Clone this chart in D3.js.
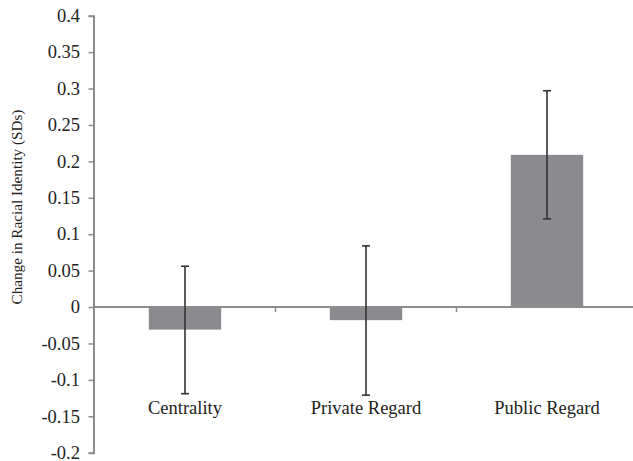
<!DOCTYPE html>
<html>
<head>
<meta charset="utf-8">
<script src="https://cdn.jsdelivr.net/npm/d3@7"></script>
<style>
  html, body { margin: 0; padding: 0; background: #fff; }
  svg { display: block; }
  svg text { font-family: "Liberation Serif", "Times New Roman", serif; }
</style>
</head>
<body>
<svg id="chart" width="633" height="461"></svg>
<script>
// Change in racial identity by dimension, with error bar limits
const categories = ["Centrality", "Private Regard", "Public Regard"];
const values = [-0.031, -0.018, 0.209];
const errorUpper = [0.056, 0.084, 0.297];
const errorLower = [-0.119, -0.121, 0.121];
const yTicks = [0.4, 0.35, 0.3, 0.25, 0.2, 0.15, 0.1, 0.05, 0, -0.05, -0.1, -0.15, -0.2];
const yTitle = "Change in Racial Identity (SDs)";

const svg = d3.select("#chart");
const axisColor = "#8c8c8c";
const barColor = "#8b8b8f";
const errColor = "#333";
const textColor = "#222";

const y = d3.scaleLinear().domain([-0.2, 0.4]).range([452.7, 15.7]);
const x = d3.scaleBand().domain(categories).range([94.5, 637.5])
  .paddingInner(0.6).paddingOuter(0.3);

// Bars
svg.append("g").selectAll("rect")
  .data(categories)
  .join("rect")
  .attr("x", d => x(d))
  .attr("width", x.bandwidth())
  .attr("y", (d, i) => y(Math.max(0, values[i])))
  .attr("height", (d, i) => Math.abs(y(values[i]) - y(0)))
  .attr("fill", barColor);

// Y axis line and tick marks (labels drawn separately below)
const yAxis = d3.axisLeft(y)
  .tickValues(yTicks)
  .tickFormat("")
  .tickSize(5);
const gy = svg.append("g").attr("transform", "translate(93.5,0)").call(yAxis);
gy.select(".domain").attr("stroke", axisColor).attr("stroke-width", 2);
gy.selectAll(".tick line").attr("stroke", axisColor).attr("stroke-width", 1.5);

// Y tick labels
svg.append("g").selectAll("text")
  .data(yTicks)
  .join("text")
  .attr("x", 80)
  .attr("y", d => y(d))
  .attr("dy", "0.34em")
  .attr("text-anchor", "end")
  .attr("fill", textColor)
  .style("font-size", "18.5px")
  .text(d => d === 0 ? "0" : String(d));

// Zero baseline with category separator ticks
const zeroY = y(0);
svg.append("line")
  .attr("x1", 93.5).attr("x2", 633)
  .attr("y1", zeroY).attr("y2", zeroY)
  .attr("stroke", axisColor).attr("stroke-width", 2);
const separators = categories.slice(1).map(c => x(c) - x.step() * x.paddingInner() / 2);
svg.append("g").selectAll("line")
  .data(separators)
  .join("line")
  .attr("x1", d => d).attr("x2", d => d)
  .attr("y1", zeroY).attr("y2", zeroY + 5)
  .attr("stroke", axisColor).attr("stroke-width", 1.5);

// Error bars
const eb = svg.append("g").attr("stroke", errColor).attr("stroke-width", 1.6);
categories.forEach((c, i) => {
  const cx = x(c) + x.bandwidth() / 2;
  eb.append("line").attr("x1", cx).attr("x2", cx)
    .attr("y1", y(errorUpper[i])).attr("y2", y(errorLower[i]));
  [errorUpper[i], errorLower[i]].forEach(v => {
    eb.append("line").attr("x1", cx - 4).attr("x2", cx + 4)
      .attr("y1", y(v)).attr("y2", y(v));
  });
});

// Category labels
svg.append("g").selectAll("text")
  .data(categories)
  .join("text")
  .attr("x", d => x(d) + x.bandwidth() / 2)
  .attr("y", 414)
  .attr("text-anchor", "middle")
  .attr("fill", textColor)
  .style("font-size", "18.5px")
  .text(d => d);

// Y axis title
svg.append("text")
  .attr("transform", "translate(22,207) rotate(-90)")
  .attr("text-anchor", "middle")
  .attr("fill", textColor)
  .style("font-size", "15.2px")
  .text(yTitle);
</script>
</body>
</html>
